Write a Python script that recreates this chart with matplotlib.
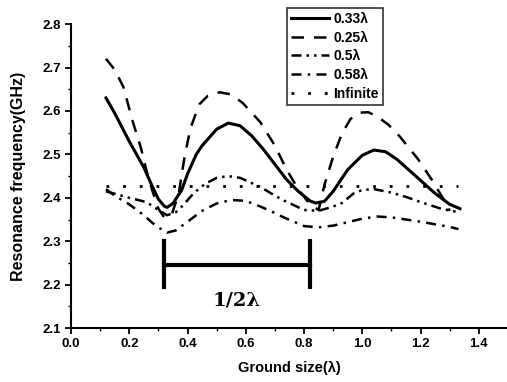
"""Resonance frequency vs ground size for several ground widths"""

import matplotlib.pyplot as plt
from matplotlib.ticker import MultipleLocator

plt.rcParams["font.family"] = ["Liberation Sans", "DejaVu Sans"]
plt.rcParams["font.weight"] = "bold"

# Solid: 0.33 lambda
x_033 = [0.12, 0.15, 0.2, 0.25, 0.28, 0.3, 0.32, 0.33, 0.35, 0.38, 0.4, 0.43, 0.45, 0.5,
         0.54, 0.58, 0.62, 0.66, 0.7, 0.74, 0.78, 0.82, 0.84, 0.87, 0.9, 0.95, 1.0,
         1.04, 1.08, 1.12, 1.16, 1.2, 1.25, 1.3, 1.335]
y_033 = [2.63, 2.595, 2.53, 2.47, 2.425, 2.397, 2.381, 2.378, 2.387, 2.418, 2.455, 2.5, 2.52,
         2.558, 2.572, 2.566, 2.543, 2.512, 2.477, 2.442, 2.415, 2.393, 2.388, 2.392, 2.415,
         2.465, 2.498, 2.51, 2.506, 2.488, 2.464, 2.44, 2.41, 2.385, 2.375]

# Dashed: 0.25 lambda
x_025 = [0.12, 0.15, 0.18, 0.21, 0.24, 0.26, 0.28, 0.3, 0.32, 0.345, 0.37, 0.39, 0.41, 0.44,
         0.47, 0.51, 0.55, 0.59, 0.65, 0.7, 0.74, 0.78, 0.82, 0.85, 0.87, 0.9, 0.93, 0.96,
         0.99, 1.02, 1.05, 1.09, 1.13, 1.19, 1.24, 1.28, 1.3]
y_025 = [2.72, 2.695, 2.655, 2.58, 2.515, 2.46, 2.415, 2.375, 2.355, 2.36, 2.41, 2.495, 2.56,
         2.615, 2.635, 2.643, 2.638, 2.618, 2.574, 2.52, 2.465, 2.42, 2.385, 2.372, 2.43,
         2.495, 2.548, 2.582, 2.596, 2.597, 2.588, 2.568, 2.54, 2.49, 2.44, 2.395, 2.37]

# Dash-dot-dot: 0.5 lambda
x_05 = [0.12, 0.2, 0.26, 0.3, 0.33, 0.36, 0.385, 0.42, 0.46, 0.5, 0.54, 0.58, 0.65, 0.7,
        0.73, 0.8, 0.85, 0.9, 0.93, 0.97, 1.0, 1.04, 1.1, 1.15, 1.21, 1.27, 1.33]
y_05 = [2.415, 2.4, 2.39, 2.372, 2.36, 2.367, 2.383, 2.41, 2.432, 2.446, 2.45, 2.446, 2.425,
        2.405, 2.394, 2.372, 2.37, 2.38, 2.388, 2.41, 2.418, 2.42, 2.412, 2.402, 2.388, 2.375,
        2.367]

# Dash-dot: 0.58 lambda
x_058 = [0.12, 0.15, 0.2, 0.25, 0.28, 0.3, 0.33, 0.36, 0.4, 0.45, 0.5, 0.55, 0.6, 0.65,
         0.7, 0.73, 0.8, 0.85, 0.9, 0.95, 1.0, 1.05, 1.1, 1.2, 1.3, 1.33]
y_058 = [2.42, 2.405, 2.385, 2.36, 2.342, 2.332, 2.32, 2.325, 2.345, 2.37, 2.387, 2.395,
         2.393, 2.38, 2.365, 2.355, 2.335, 2.332, 2.336, 2.344, 2.352, 2.357, 2.355, 2.345,
         2.333, 2.328]

# Dotted: infinite ground
x_inf = [0.12, 1.33]
y_inf = [2.428, 2.428]

# 1/2 lambda bracket
bracket_x = [0.32, 0.82]
bracket_y = 2.245
bracket_top = 2.3
bracket_bottom = 2.195

fig = plt.figure(figsize=(5.07, 3.82), dpi=100)
ax = fig.add_axes([0.140, 0.141, 0.862, 0.796])

ax.plot(x_033, y_033, color="black", lw=2.2, ls="-", label="0.33λ")
ax.plot(x_025, y_025, color="black", lw=1.8, ls=(0, (5, 4)), label="0.25λ")
ax.plot(x_05, y_05, color="black", lw=1.8, ls=(0, (4, 2, 1, 2, 1, 2)), label="0.5λ")
ax.plot(x_058, y_058, color="black", lw=1.8, ls=(0, (4, 2.5, 1, 2.5)), label="0.58λ")
ax.plot(x_inf, y_inf, color="black", lw=2.0, ls=(0, (1, 5)), label="Infinite")

# bracket marking half a wavelength
ax.plot(bracket_x, [bracket_y, bracket_y], color="black", lw=3)
for bx in bracket_x:
    ax.plot([bx, bx], [bracket_bottom, bracket_top], color="black", lw=3)
ax.text(sum(bracket_x) / 2, 2.163, "1/2λ", family="DejaVu Serif", fontsize=14,
        fontweight="bold", ha="center", va="center")

ax.set_xlim(0, 1.5)
ax.set_ylim(2.1, 2.8)
ax.xaxis.set_major_locator(MultipleLocator(0.2))
ax.xaxis.set_minor_locator(MultipleLocator(0.1))
ax.yaxis.set_major_locator(MultipleLocator(0.1))
ax.yaxis.set_minor_locator(MultipleLocator(0.05))
ax.set_xticks([0.0, 0.2, 0.4, 0.6, 0.8, 1.0, 1.2, 1.4])
ax.tick_params(which="major", direction="out", length=4, width=1.3, labelsize=9.5, pad=3)
ax.tick_params(which="minor", direction="out", length=2, width=1)
for lbl in ax.get_xticklabels() + ax.get_yticklabels():
    lbl.set_fontweight("bold")

ax.spines["top"].set_visible(False)
ax.spines["right"].set_visible(False)
ax.spines["left"].set_linewidth(1.5)
ax.spines["bottom"].set_linewidth(1.5)

ax.set_xlabel("Ground size(λ)", fontsize=10.5, fontweight="bold", labelpad=8)
ax.set_ylabel("Resonance frequency(GHz)", fontsize=11.5, fontweight="bold", labelpad=12)

leg = ax.legend(loc="upper right", bbox_to_anchor=(0.755, 0.979),
                bbox_transform=fig.transFigure, fontsize=10, frameon=True,
                fancybox=False, edgecolor="black", handlelength=2.7,
                handletextpad=0.3, borderpad=0.3, labelspacing=0.33, borderaxespad=0)
leg.get_frame().set_linewidth(1.2)
for t in leg.get_texts():
    t.set_fontweight("bold")

fig.savefig("out.png", dpi=100)
